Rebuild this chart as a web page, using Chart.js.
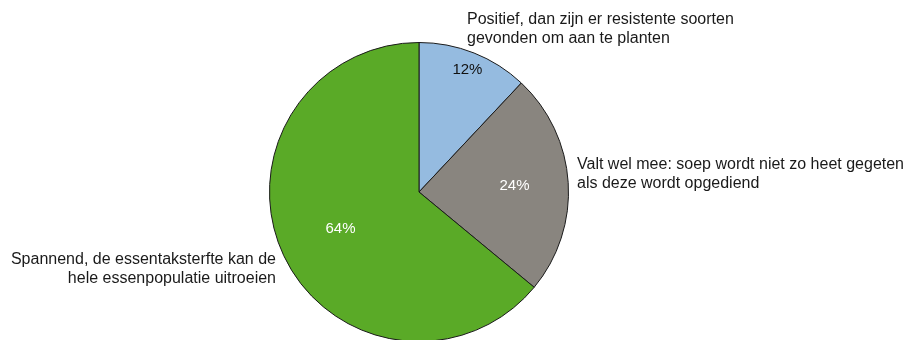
<!DOCTYPE html>
<html>
<head>
<meta charset="utf-8">
<script src="https://cdn.jsdelivr.net/npm/chart.js@4"></script>
<style>
  html, body { margin: 0; padding: 0; background: #fff; overflow: hidden; }
  #wrap { width: 910px; height: 340px; overflow: hidden; }
</style>
</head>
<body>
<div id="wrap"><canvas id="pie" width="910" height="360"></canvas></div>
<script>
const categories = [
  ["Positief, dan zijn er resistente soorten", "gevonden om aan te planten"],
  ["Valt wel mee: soep wordt niet zo heet gegeten", "als deze wordt opgediend"],
  ["Spannend, de essentaksterfte kan de", "hele essenpopulatie uitroeien"]
];
const values = [12, 24, 64];
const sliceColors = ["#95bbe0", "#89857f", "#5aaa27"];
const pctColors = ["#111", "#fff", "#fff"];

// where the percentages sit (fraction of radius) and where the outside labels go
const pctRadius = [0.88, 0.64, 0.58];
const outside = [
  { x: 467, y: 20, align: "left" },
  { x: 577, y: 165, align: "left" },
  { x: 276, y: 260, align: "right" }
];

const labelPlugin = {
  id: "pieLabels",
  afterDatasetsDraw(chart) {
    const ctx = chart.ctx;
    const meta = chart.getDatasetMeta(0);
    ctx.save();
    ctx.textBaseline = "middle";
    meta.data.forEach((arc, i) => {
      const mid = (arc.startAngle + arc.endAngle) / 2;
      const r = arc.outerRadius * pctRadius[i];
      ctx.font = "15px 'Liberation Sans', Arial, sans-serif";
      ctx.fillStyle = pctColors[i];
      ctx.textAlign = "center";
      ctx.fillText(values[i] + "%", arc.x + Math.cos(mid) * r, arc.y + Math.sin(mid) * r);

      const o = outside[i];
      ctx.font = "16px 'Liberation Sans', Arial, sans-serif";
      ctx.fillStyle = "#1a1a1a";
      ctx.textAlign = o.align;
      categories[i].forEach((line, j) => ctx.fillText(line, o.x, o.y + j * 19));
    });
    ctx.restore();
  }
};

new Chart(document.getElementById("pie"), {
  type: "pie",
  data: {
    labels: categories.map(c => c.join(" ")),
    datasets: [{
      data: values,
      backgroundColor: sliceColors,
      borderColor: "#1a1a1a",
      borderWidth: 1
    }]
  },
  options: {
    responsive: false,
    animation: false,
    layout: { padding: { left: 269, right: 341, top: 42, bottom: 18 } },
    plugins: { legend: { display: false }, tooltip: { enabled: false } }
  },
  plugins: [labelPlugin]
});
</script>
</body>
</html>
